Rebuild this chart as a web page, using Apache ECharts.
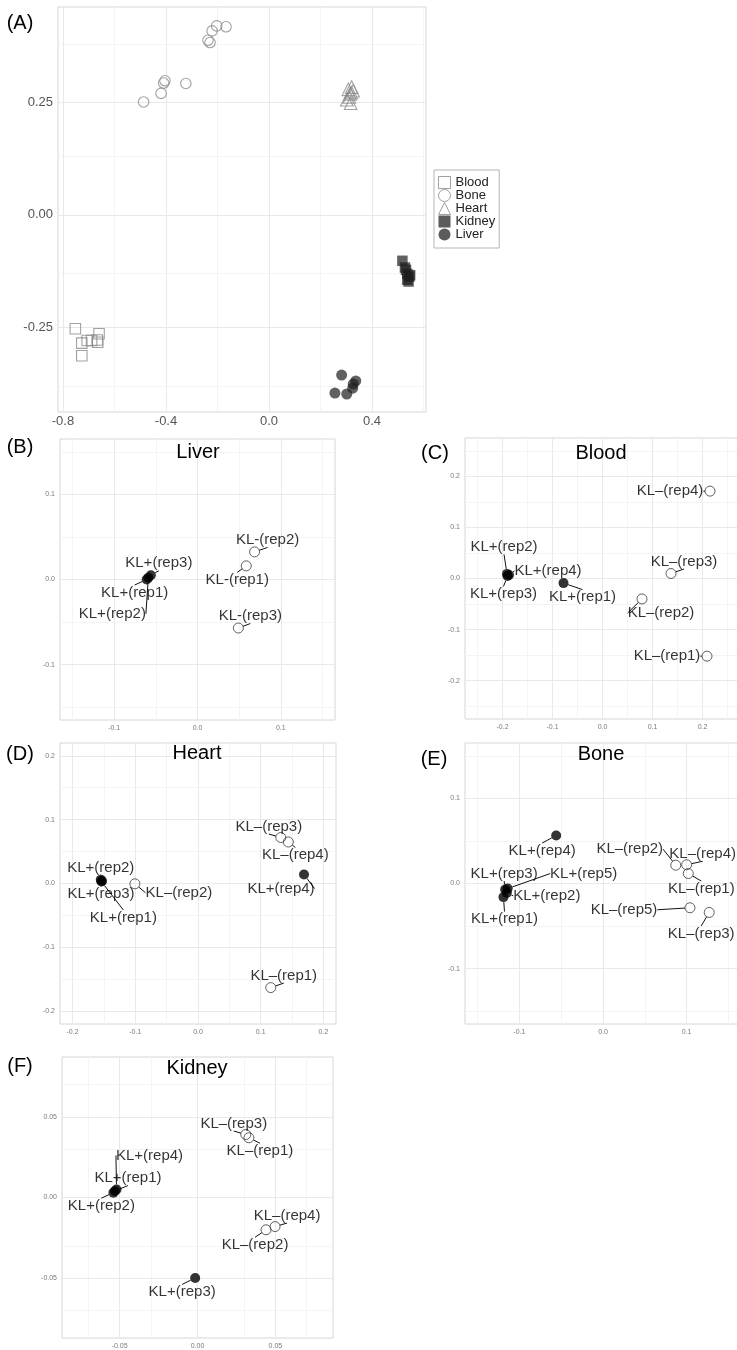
<!DOCTYPE html>
<html><head><meta charset="utf-8">
<script src="https://cdn.jsdelivr.net/npm/echarts@6/dist/echarts.min.js"></script>
<style>html,body{margin:0;padding:0;background:#fff}#c{width:737px;height:1350px}</style>
</head><body><div id="c"></div><script>
// ---------- Panel A: PCA of all tissues ----------
const pcaBlood  = [[-0.752,-0.253],[-0.727,-0.285],[-0.706,-0.279],[-0.689,-0.279],[-0.665,-0.283],[-0.660,-0.264],[-0.667,-0.278],[-0.727,-0.313]];
const pcaBone   = [[-0.203,0.420],[-0.167,0.418],[-0.221,0.409],[-0.237,0.388],[-0.229,0.383],[-0.404,0.298],[-0.409,0.293],[-0.323,0.292],[-0.419,0.270],[-0.487,0.251]];
const pcaHeart  = [[0.308,0.279],[0.321,0.284],[0.327,0.276],[0.315,0.269],[0.302,0.256],[0.317,0.248],[0.312,0.262],[0.320,0.272]];
const pcaKidney = [[0.518,-0.102],[0.528,-0.117],[0.532,-0.122],[0.537,-0.131],[0.545,-0.137],[0.548,-0.134],[0.537,-0.144],[0.542,-0.148]];
const pcaLiver  = [[0.282,-0.356],[0.337,-0.369],[0.327,-0.376],[0.325,-0.385],[0.256,-0.396],[0.302,-0.398]];
const tissueNames = ['Blood','Bone','Heart','Kidney','Liver'];
const pcaTicksX = [-0.8,-0.4,0.0,0.4];
const pcaMinorX = [-0.6,-0.2,0.2,0.6];
const pcaTicksY = [-0.25,0.00,0.25];
const pcaMinorY = [-0.375,-0.125,0.125,0.375];

// ---------- Panel B: Liver ----------
const liverLabels = ['KL+(rep1)','KL+(rep2)','KL+(rep3)','KL-(rep1)','KL-(rep2)','KL-(rep3)'];
const liverX = [-0.061,-0.059,-0.056,0.0585,0.0685,0.049];
const liverY = [0.000,0.002,0.005,0.016,0.0324,-0.057];
const liverTicks = [-0.1,0.0,0.1];
const liverMinor = [-0.15,-0.05,0.05,0.15];

// ---------- Panel C: Blood ----------
const bloodLabels = ['KL+(rep1)','KL+(rep2)','KL+(rep3)','KL+(rep4)','KL–(rep1)','KL–(rep2)','KL–(rep3)','KL–(rep4)'];
const bloodX = [-0.078,-0.191,-0.190,-0.187,0.209,0.079,0.137,0.215];
const bloodY = [-0.009,0.009,0.005,0.007,-0.152,-0.040,0.0098,0.171];
const bloodTicks = [-0.2,-0.1,0.0,0.1,0.2];
const bloodMinor = [-0.25,-0.15,-0.05,0.05,0.15,0.25];

// ---------- Panel D: Heart ----------
const heartLabels = ['KL+(rep1)','KL+(rep2)','KL+(rep3)','KL+(rep4)','KL–(rep1)','KL–(rep2)','KL–(rep3)','KL–(rep4)'];
const heartX = [-0.154,-0.155,-0.153,0.169,0.116,-0.1006,0.132,0.144];
const heartY = [0.003,0.006,0.004,0.014,-0.163,-0.0005,0.072,0.065];
const heartTicks = [-0.2,-0.1,0.0,0.1,0.2];
const heartMinor = [-0.15,-0.05,0.05,0.15];

// ---------- Panel E: Bone ----------
const boneLabels = ['KL+(rep1)','KL+(rep2)','KL+(rep3)','KL+(rep4)','KL+(rep5)','KL–(rep1)','KL–(rep2)','KL–(rep3)','KL–(rep4)','KL–(rep5)'];
const boneX = [-0.119,-0.115,-0.117,-0.056,-0.114,0.102,0.087,0.127,0.100,0.104];
const boneY = [-0.016,-0.011,-0.007,0.0563,-0.006,0.0117,0.0215,-0.034,0.022,-0.0285];
const boneTicks = [-0.1,0.0,0.1];
const boneMinor = [-0.15,-0.05,0.05,0.15];

// ---------- Panel F: Kidney ----------
const kidneyLabels = ['KL+(rep1)','KL+(rep2)','KL+(rep3)','KL+(rep4)','KL–(rep1)','KL–(rep2)','KL–(rep3)','KL–(rep4)'];
const kidneyX = [-0.053,-0.054,-0.0015,-0.052,0.033,0.044,0.031,0.0498];
const kidneyY = [0.004,0.003,-0.0498,0.005,0.037,-0.020,0.039,-0.018];
const kidneyTicks = [-0.05,0.00,0.05];
const kidneyMinor = [-0.075,-0.025,0.025,0.075];

// ---------- label placement (pixel shifts, like ggrepel) ----------
const liverShift = {'KL+(rep1)':[-12,13],'KL+(rep2)':[-36,36],'KL+(rep3)':[8,-12],'KL-(rep1)':[-9,14],'KL-(rep2)':[13,-12],'KL-(rep3)':[12,-12]};
const bloodShift = {'KL+(rep1)':[19,14],'KL+(rep2)':[-3,-27],'KL+(rep3)':[-4,18],'KL+(rep4)':[39,-4],'KL–(rep1)':[-40,0],'KL–(rep2)':[19,14],'KL–(rep3)':[13,-12],'KL–(rep4)':[-40,0]};
const heartShift = {'KL+(rep1)':[22,36],'KL+(rep2)':[0,-12],'KL+(rep3)':[-1,13],'KL+(rep4)':[-23,14],'KL–(rep1)':[13,-12],'KL–(rep2)':[44,9],'KL–(rep3)':[-12,-11],'KL–(rep4)':[7,13]};
const boneShift = {'KL+(rep1)':[1,22],'KL+(rep2)':[40,3],'KL+(rep3)':[-1,-16],'KL+(rep4)':[-14,15],'KL+(rep5)':[76,-15],'KL–(rep1)':[13,15],'KL–(rep2)':[-46,-16],'KL–(rep3)':[-8,21],'KL–(rep4)':[16,-11],'KL–(rep5)':[-66,2]};
const kidneyShift = {'KL+(rep1)':[13,-13],'KL+(rep2)':[-12,13],'KL+(rep3)':[-13,14],'KL+(rep4)':[33,-34],'KL–(rep1)':[11,13],'KL–(rep2)':[-11,15],'KL–(rep3)':[-12,-11],'KL–(rep4)':[12,-11]};

const FONT = "'Liberation Sans', Arial, Helvetica, sans-serif";
const MAJ = '#e9e9e9', MIN = '#f4f4f4';

const grids = [
  {left:58, top:7, width:368, height:405},
  {left:60, top:439, width:275, height:281},
  {left:465, top:438, width:275, height:281},
  {left:60, top:743, width:276, height:281},
  {left:465, top:743, width:276, height:281},
  {left:62, top:1057, width:271, height:281}
].map(g => Object.assign({show:true, borderColor:'#d6d6d6', borderWidth:1, backgroundColor:'transparent', containLabel:false, outerBoundsMode:'none'}, g));

const panelDefs = [
  {xr:[-0.8194,0.6097], yr:[-0.438,0.462], xt:pcaTicksX, yt:pcaTicksY, xm:pcaMinorX, ym:pcaMinorY, xd:1, yd:2, fs:13, col:'#555', xmar:3, ymar:5},
  {xr:[-0.165,0.165], yr:[-0.165,0.165], xt:liverTicks, yt:liverTicks, xm:liverMinor, ym:liverMinor, xd:1, yd:1, fs:7, col:'#7a7a7a', xmar:5, ymar:5},
  {xr:[-0.275,0.275], yr:[-0.275,0.275], xt:bloodTicks, yt:bloodTicks, xm:bloodMinor, ym:bloodMinor, xd:1, yd:1, fs:7, col:'#7a7a7a', xmar:5, ymar:5},
  {xr:[-0.22,0.22], yr:[-0.22,0.22], xt:heartTicks, yt:heartTicks, xm:heartMinor, ym:heartMinor, xd:1, yd:1, fs:7, col:'#7a7a7a', xmar:5, ymar:5},
  {xr:[-0.165,0.165], yr:[-0.165,0.165], xt:boneTicks, yt:boneTicks, xm:boneMinor, ym:boneMinor, xd:1, yd:1, fs:7, col:'#7a7a7a', xmar:5, ymar:5},
  {xr:[-0.087,0.087], yr:[-0.087,0.087], xt:kidneyTicks, yt:kidneyTicks, xm:kidneyMinor, ym:kidneyMinor, xd:2, yd:2, fs:7, col:'#7a7a7a', xmar:5, ymar:5}
];

const xAxes = [], yAxes = [], series = [];
panelDefs.forEach((p, i) => {
  const base = {type:'value', gridIndex:i, axisLine:{show:false}, axisTick:{show:false}, splitLine:{show:false}, minorSplitLine:{show:false}};
  xAxes.push(Object.assign({}, base, {min:p.xr[0], max:p.xr[1],
    axisLabel:{customValues:p.xt, formatter:v=>Number(v).toFixed(p.xd), fontSize:p.fs, color:p.col, fontFamily:FONT, margin:p.xmar}}));
  yAxes.push(Object.assign({}, base, {min:p.yr[0], max:p.yr[1],
    axisLabel:{customValues:p.yt, formatter:v=>Number(v).toFixed(p.yd), fontSize:p.fs, color:p.col, fontFamily:FONT, margin:p.ymar}}));
  const ml = [];
  p.xm.forEach(v => ml.push({xAxis:v, lineStyle:{color:MIN, width:1, type:'solid'}}));
  p.ym.forEach(v => ml.push({yAxis:v, lineStyle:{color:MIN, width:1, type:'solid'}}));
  p.xt.forEach(v => ml.push({xAxis:v, lineStyle:{color:MAJ, width:1, type:'solid'}}));
  p.yt.forEach(v => ml.push({yAxis:v, lineStyle:{color:MAJ, width:1, type:'solid'}}));
  series.push({type:'scatter', name:'grid'+i, xAxisIndex:i, yAxisIndex:i, data:[], silent:true, z:0,
    markLine:{silent:true, symbol:['none','none'], label:{show:false}, z:0, animation:false, emphasis:{disabled:true}, data:ml}});
});

// Panel A series
const openA = {color:'rgba(255,255,255,0)', borderColor:'#8a8a8a', borderWidth:1.1};
const fillA = {color:'rgba(30,30,30,0.88)'};
const pcaSets = [pcaBlood, pcaBone, pcaHeart, pcaKidney, pcaLiver];
const pcaSym = ['rect','circle','triangle','rect','circle'];
const pcaSize = [10.5,10.5,12.5,10.5,11];
const pcaStyle = [openA, openA, openA, fillA, fillA];
tissueNames.forEach((n, k) => {
  series.push({type:'scatter', name:n, xAxisIndex:0, yAxisIndex:0, data:pcaSets[k], symbol:pcaSym[k], symbolSize:pcaSize[k], itemStyle:pcaStyle[k], z:3, emphasis:{disabled:true}});
});

function panelSeries(idx, labels, xs, ys, shifts) {
  const plus = [], minus = [];
  labels.forEach((l, i) => {
    const d = {name:l, value:[xs[i], ys[i]]};
    (l.indexOf('KL+') === 0 ? plus : minus).push(d);
  });
  const common = {type:'scatter', xAxisIndex:idx, yAxisIndex:idx, symbol:'circle', symbolSize:10, z:3, emphasis:{disabled:true},
    label:{show:true, formatter:'{b}', position:'inside', color:'#000', fontSize:15, fontFamily:FONT, textBorderWidth:0},
    labelLine:{show:true, length2:0, minTurnAngle:0, lineStyle:{color:'#111', width:1}},
    labelLayout: function (p) {
      const s = shifts[p.text] || [0, 0];
      return {x:p.rect.x + p.rect.width/2 + s[0], y:p.rect.y + p.rect.height/2 + s[1], align:'center', verticalAlign:'middle'};
    }
  };
  series.push(Object.assign({}, common, {name:'minus'+idx, data:minus, itemStyle:{color:'rgba(255,255,255,0)', borderColor:'#3a3a3a', borderWidth:1}}));
  series.push(Object.assign({}, common, {name:'plus'+idx, data:plus, itemStyle:{color:'#000'}}));
}
panelSeries(1, liverLabels, liverX, liverY, liverShift);
panelSeries(2, bloodLabels, bloodX, bloodY, bloodShift);
panelSeries(3, heartLabels, heartX, heartY, heartShift);
panelSeries(4, boneLabels, boneX, boneY, boneShift);
panelSeries(5, kidneyLabels, kidneyX, kidneyY, kidneyShift);

const T = (text, x, y, size) => ({type:'text', x:x, y:y, silent:true, z:10,
  style:{text:text, fill:'#000', font:size + 'px ' + FONT, textAlign:'center', textVerticalAlign:'middle'}});

const legendOpen = {color:'rgba(255,255,255,0)', borderColor:'#8a8a8a', borderWidth:1};
const legendFill = {color:'#333', borderWidth:0};

const option = {
  animation:false,
  backgroundColor:'#fff',
  grid:grids, xAxis:xAxes, yAxis:yAxes, series:series,
  legend:{orient:'vertical', left:434, top:170, padding:[6,4,7,4], itemGap:0, itemWidth:12, itemHeight:12,
    borderColor:'#b5b5b5', borderWidth:1, selectedMode:false,
    textStyle:{fontSize:13, fontFamily:FONT, color:'#222', lineHeight:13},
    data:[
      {name:'Blood', icon:'rect', itemStyle:legendOpen},
      {name:'Bone', icon:'circle', itemStyle:legendOpen},
      {name:'Heart', icon:'triangle', itemStyle:legendOpen},
      {name:'Kidney', icon:'rect', itemStyle:legendFill},
      {name:'Liver', icon:'circle', itemStyle:legendFill}
    ]},
  graphic:[
    T('(A)', 20, 23, 20),
    T('(B)', 20, 447, 20), T('Liver', 198, 452, 20),
    T('(C)', 435, 453, 20), T('Blood', 601, 453, 20),
    T('(D)', 20, 754, 20), T('Heart', 197, 753, 20),
    T('(E)', 434, 759, 20), T('Bone', 601, 754, 20),
    T('(F)', 20, 1066, 20), T('Kidney', 197, 1068, 20)
  ]
};
const chart = echarts.init(document.getElementById('c'), null, {renderer:'canvas'});
chart.setOption(option);
</script></body></html>
